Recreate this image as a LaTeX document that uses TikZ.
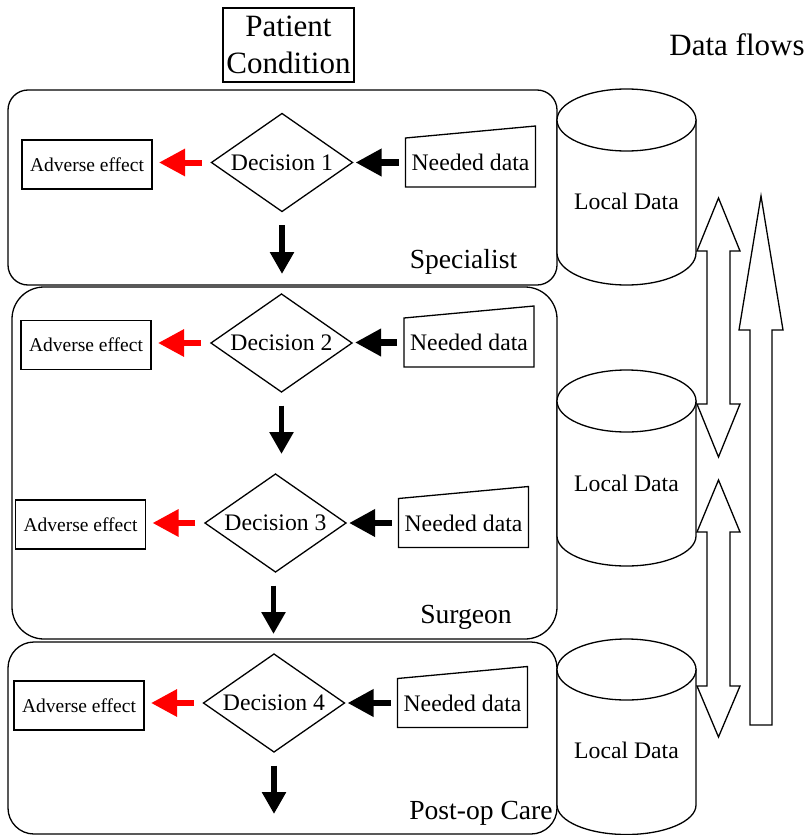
\documentclass[tikz,border=0pt]{standalone}
\usepackage{fontspec}
\setmainfont{Liberation Serif}
\usetikzlibrary{arrows.meta,shapes.geometric}
\begin{document}
\begin{tikzpicture}[x=1pt,y=-1pt,
  every node/.style={inner sep=0pt, outer sep=0pt},
  lane/.style={draw, line width=1.3pt},
  decision/.style={diamond, aspect=1.44, draw, line width=1.3pt, minimum width=141pt, minimum height=98pt, font=\fontsize{23.7}{28}\selectfont},
  adverse/.style={rectangle, draw, line width=1.3pt, minimum width=130pt, minimum height=49pt, font=\fontsize{19.5}{23}\selectfont},
  needtext/.style={rectangle, minimum width=130pt, minimum height=49pt, font=\fontsize{23.7}{28}\selectfont},
  needshape/.style={draw, line width=1.3pt, line join=miter},
  lanelabel/.style={font=\fontsize{27.6}{32}\selectfont, anchor=base},
  dbtext/.style={font=\fontsize{23.7}{28}\selectfont},
  redarrow/.style={draw=red, line width=6pt, -{Triangle[length=26pt,width=26pt]}, shorten <=10pt, shorten >=7pt},
  blackarrow/.style={draw=black, line width=6.5pt, -{Triangle[length=26pt,width=26pt]}, shorten <=7pt, shorten >=3pt},
  downarrow/.style={draw=black, line width=5.5pt, -{Triangle[length=22pt,width=23pt]}, shorten <=13.5pt, shorten >=20pt},
  cyl/.style={draw, fill=white, line width=1.3pt},
  block/.style={draw, fill=white, line width=1.3pt, line join=miter}
]
\useasboundingbox (0,0) rectangle (805,835);

% lanes
\draw[lane, rounded corners=20pt] (8,90) rectangle (557,285);
\draw[lane, rounded corners=32pt] (12,287) rectangle (557,639);
\draw[lane, rounded corners=26pt] (8,642) rectangle (557,834);

% title nodes
\node[draw, line width=1.3pt, minimum width=131pt, minimum height=74pt, align=center,
      font=\fontsize{31}{37}\selectfont] (pc) at (288.5,45) {Patient\\Condition};
\node[font=\fontsize{31}{36}\selectfont, anchor=base] (df) at (737,55) {Data flows};

% decisions
\node[decision] (d1) at (282,162.5) {Decision 1};
\node[decision] (d2) at (281.5,343) {Decision 2};
\node[decision] (d3) at (275.5,523) {Decision 3};
\node[decision] (d4) at (274,703) {Decision 4};

% adverse effects
\node[adverse] (a1) at (87,164.5) {Adverse effect};
\node[adverse] (a2) at (86,345) {Adverse effect};
\node[adverse] (a3) at (80.5,524.5) {Adverse effect};
\node[adverse] (a4) at (79,705.5) {Adverse effect};

% needed data
\node[needtext] (n1) at (470.5,162.5) {Needed data};
\node[needtext] (n2) at (469,342.5) {Needed data};
\node[needtext] (n3) at (463.5,523) {Needed data};
\node[needtext] (n4) at (462.5,703) {Needed data};
\foreach \n in {n1,n2,n3,n4}{
  \draw[needshape] (\n.south west) -- (\n.south east) -- ([yshift=12pt]\n.north east) -- (\n.north west) -- cycle;
}

% lane labels
\node[lanelabel] (l1) at (463.5,268) {Specialist};
\node[lanelabel] (l2) at (466,623) {Surgeon};
\node[lanelabel] (l3) at (481,819) {Post-op Care};

% arrows
\foreach \i in {1,2,3,4}{
  \draw[blackarrow] (n\i.west) -- (n\i.west -| d\i.east);
  \draw[redarrow] (d\i.west) -- (d\i.west -| a\i.east);
}
\coordinate (endd) at (274,834);
\draw[downarrow] (d1.south) -- (d1.south |- d2.north);
\draw[downarrow] (d2.south) -- (d2.south |- d3.north);
\draw[downarrow] ([xshift=-2pt]d3.south) -- ([xshift=-2pt]d3.south |- d4.north);
\draw[downarrow] (d4.south) -- (endd);

% cylinders
\draw[cyl] (557,120) -- (557,253) arc[start angle=180,end angle=360,x radius=69.5pt,y radius=32pt] -- (696,120) -- cycle;
\draw[cyl] (626.5,120) ellipse[x radius=69.5pt, y radius=31pt];
\node[dbtext] (ld1) at (626.5,201) {Local Data};

\draw[cyl] (557,401) -- (557,536) arc[start angle=180,end angle=360,x radius=69.5pt,y radius=30pt] -- (696,401) -- cycle;
\draw[cyl] (626.5,401) ellipse[x radius=69.5pt, y radius=31pt];
\node[dbtext] (ld2) at (626.5,483) {Local Data};

\draw[cyl] (557,669.5) -- (557,805) arc[start angle=180,end angle=360,x radius=69.5pt,y radius=29.5pt] -- (696,669.5) -- cycle;
\draw[cyl] (626.5,669.5) ellipse[x radius=69.5pt, y radius=30.5pt];
\node[dbtext] (ld3) at (626.5,750) {Local Data};

% block arrows (data flows)
\draw[block] (718.5,198) -- (740,251) -- (730,251) -- (730,404) -- (740,404) -- (718.5,457)
  -- (697,404) -- (707,404) -- (707,251) -- (697,251) -- cycle;
\draw[block] (718.5,480) -- (740,532) -- (730,532) -- (730,686) -- (740,686) -- (718.5,737)
  -- (697,686) -- (707,686) -- (707,532) -- (697,532) -- cycle;
\draw[block] (761,196) -- (783,330) -- (772,330) -- (772,725) -- (750,725) -- (750,330)
  -- (739,330) -- cycle;
\end{tikzpicture}
\end{document}
